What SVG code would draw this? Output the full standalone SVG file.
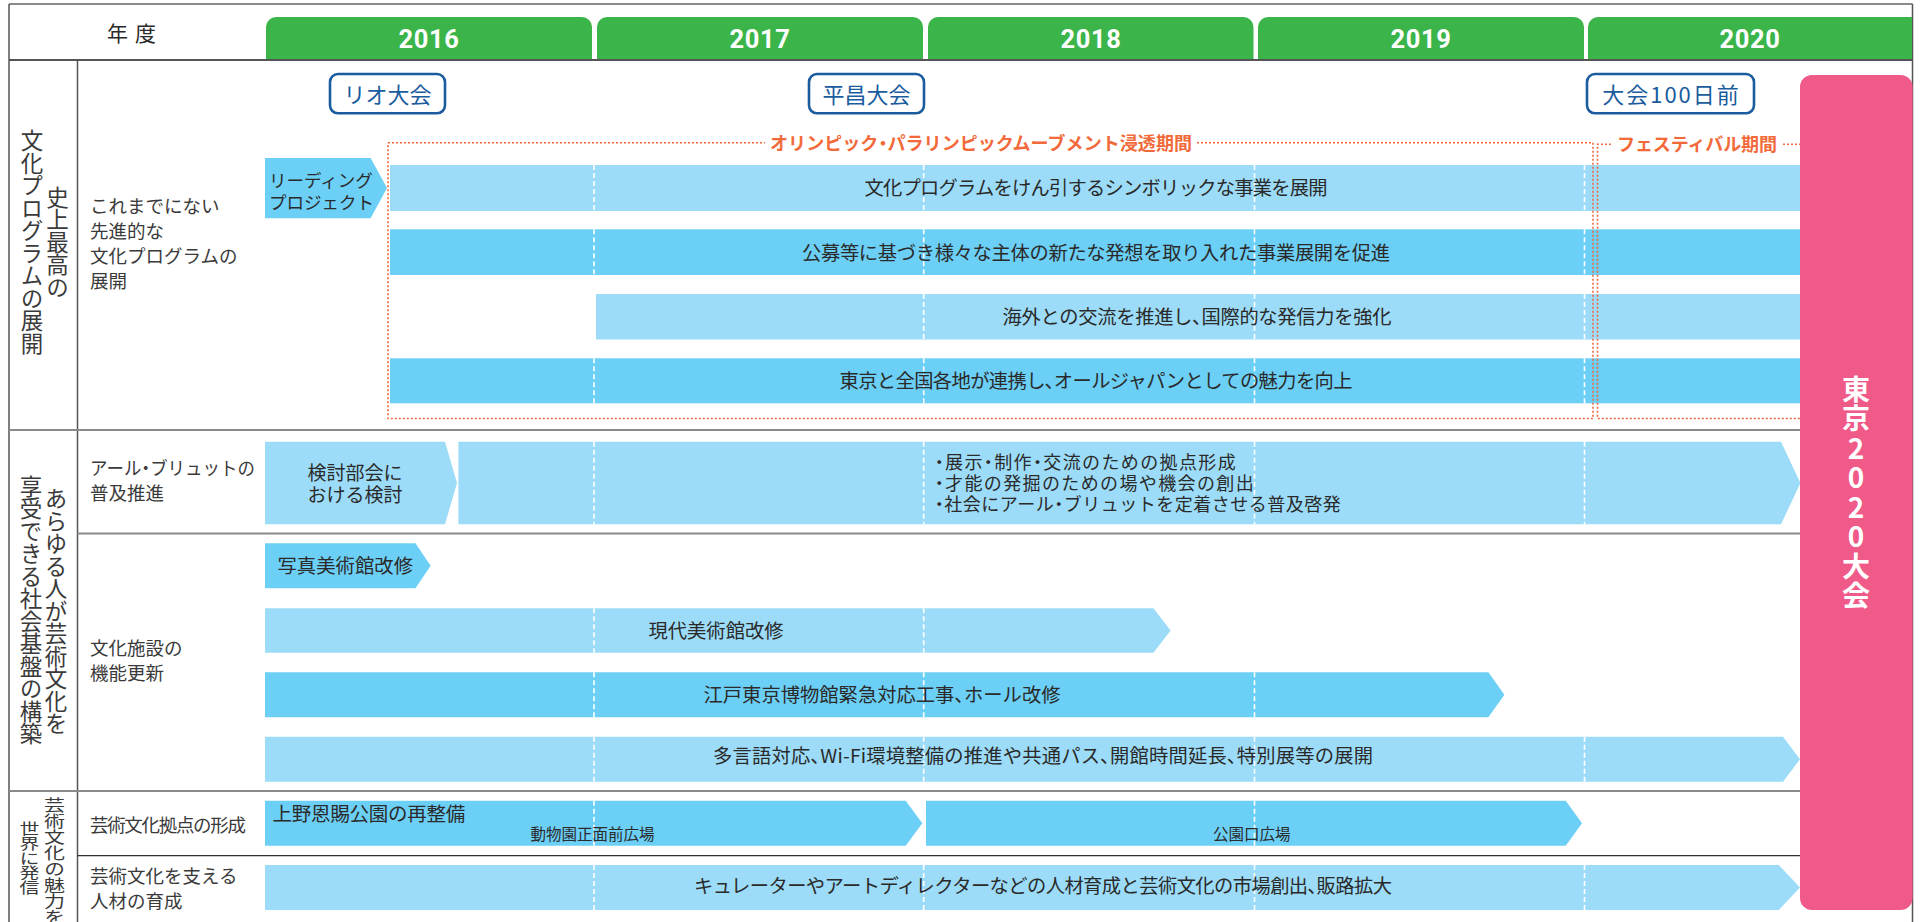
<svg xmlns="http://www.w3.org/2000/svg" width="1921" height="922" viewBox="0 0 1921 922">
<style>
text{font-family:"Noto Sans CJK JP","Noto Sans",sans-serif;fill:#2a2a2a}
.p{font-feature-settings:"palt"}
.lt{fill:#9cdcf8}
.dk{fill:#6bcff6}
.dash{stroke:#fff;stroke-width:1.6;stroke-dasharray:5 3;fill:none}
.bt{font-size:19.3px;text-anchor:middle}
.lab{font-size:18.5px;fill:#3a3a3a}
.vt{font-size:22.5px;fill:#3a3a3a;writing-mode:vertical-rl;text-anchor:middle}
.yr{font-family:Roboto,"Liberation Sans",sans-serif;font-weight:700;font-size:25.5px;fill:#fff;text-anchor:middle;letter-spacing:0.6px}
.ms{fill:#fff;stroke:#1b5c9e;stroke-width:2.6}
.mt{font-size:22px;fill:#1b5c9e;text-anchor:middle}
.or{stroke:#f26a3a;stroke-width:1.6;stroke-dasharray:2 2;fill:none}
.ot{font-size:18px;font-weight:700;fill:#f26a3a;text-anchor:middle}
.sl{stroke:#8a8a8a;stroke-width:2;fill:none}
.hd{fill:#3bb54a}
</style>
<rect x="0" y="0" width="1921" height="922" fill="#fff"/>

<g id="frame">
<path d="M9 4H1912.5" stroke="#8a8a8a" stroke-width="2" fill="none"/>
<path d="M9 4V922M1912.5 4V922M77.5 60V922" stroke="#555" stroke-width="1.5" fill="none"/>
</g>

<g id="header">
<text x="107" y="41" font-size="21" letter-spacing="7" fill="#333">年度</text>
<path class="hd" d="M266 60V27A10 10 0 0 1 276 17H582A10 10 0 0 1 592 27V60Z"/>
<path class="hd" d="M597 60V27A10 10 0 0 1 607 17H913A10 10 0 0 1 923 27V60Z"/>
<path class="hd" d="M928 60V27A10 10 0 0 1 938 17H1243.5A10 10 0 0 1 1253.5 27V60Z"/>
<path class="hd" d="M1258 60V27A10 10 0 0 1 1268 17H1574A10 10 0 0 1 1584 27V60Z"/>
<path class="hd" d="M1588 60V27A10 10 0 0 1 1598 17H1912V60Z"/>
<text class="yr" x="429" y="48">2016</text>
<text class="yr" x="760" y="48">2017</text>
<text class="yr" x="1091" y="48">2018</text>
<text class="yr" x="1421" y="48">2019</text>
<text class="yr" x="1750" y="48">2020</text>
<path d="M9 60H1912.5" stroke="#555" stroke-width="2" fill="none"/>
</g>

<g id="milestones">
<g id="ms-rio"><rect class="ms" x="330" y="74" width="115" height="39.3" rx="8"/><text class="mt" x="387.5" y="103">リオ大会</text></g>
<g id="ms-pyeongchang"><rect class="ms" x="809" y="74" width="115" height="39.3" rx="8"/><text class="mt" x="866.5" y="103">平昌大会</text></g>
<g id="ms-100days"><rect class="ms" x="1587" y="74" width="167" height="39.3" rx="8"/><text class="mt" x="1671.5" y="103" letter-spacing="2">大会100日前</text></g>
</g>

<g id="row-labels">
<text class="vt" x="32" y="242">文化プログラムの展開</text>
<text class="vt" x="57.5" y="242">史上最高の</text>
<text class="vt" x="31" y="610">享受できる社会基盤の構築</text>
<text class="vt" x="56" y="611">あらゆる人が芸術文化を</text>
<text class="vt" transform="translate(29.5 858) scale(1 0.74)" x="0" y="0" style="font-size:20px">世界に発信</text>
<text class="vt" transform="translate(54.5 861) scale(1 0.76)" x="0" y="0" style="font-size:21px">芸術文化の魅力を</text>
<text class="lab" x="90" y="213">これまでにない</text>
<text class="lab" x="90" y="238">先進的な</text>
<text class="lab" x="90" y="263">文化プログラムの</text>
<text class="lab" x="90" y="288">展開</text>
<text class="lab" x="90" y="475" textLength="165" lengthAdjust="spacingAndGlyphs">アール<tspan class="p">・</tspan>ブリュットの</text>
<text class="lab" x="90" y="500">普及推進</text>
<text class="lab" x="90" y="655">文化施設の</text>
<text class="lab" x="90" y="680">機能更新</text>
<text class="lab" x="90" y="832" textLength="156">芸術文化拠点の形成</text>
<text class="lab" x="90" y="883">芸術文化を支える</text>
<text class="lab" x="90" y="908">人材の育成</text>
</g>

<g id="bar-lead">
<path class="dk" d="M265 158H370.6L387 188L370.6 218.3H265Z"/>
<text x="269" y="186.5" font-size="17.5">リーディング</text>
<text x="269" y="208.5" font-size="17.5">プロジェクト</text>
</g>
<g id="bar-1">
<rect class="lt" x="390" y="165" width="1410" height="46"/>
<path class="dash" d="M594 165V211M923.7 165V211M1254.5 165V211M1584.5 165V211"/>
<text class="bt" x="1096" y="195" textLength="463">文化プログラムをけん引するシンボリックな事業を展開</text>
</g>
<g id="bar-2">
<rect class="dk" x="390" y="229.3" width="1410" height="45.7"/>
<path class="dash" d="M594 229.3V275M923.7 229.3V275M1254.5 229.3V275M1584.5 229.3V275"/>
<text class="bt" x="1096" y="259.5" textLength="588">公募等に基づき様々な主体の新たな発想を取り入れた事業展開を促進</text>
</g>
<g id="bar-3">
<rect class="lt" x="596" y="294" width="1204" height="45.5"/>
<path class="dash" d="M923.7 294V339.5M1254.5 294V339.5M1584.5 294V339.5"/>
<text class="bt" x="1197" y="324" textLength="389">海外との交流を推進し<tspan class="p">、</tspan>国際的な発信力を強化</text>
</g>
<g id="bar-4">
<rect class="dk" x="390" y="358.3" width="1410" height="45"/>
<path class="dash" d="M594 358.3V403.3M923.7 358.3V403.3M1254.5 358.3V403.3M1584.5 358.3V403.3"/>
<text class="bt" x="1096" y="387.5" textLength="513">東京と全国各地が連携し<tspan class="p">、</tspan>オールジャパンとしての魅力を向上</text>
</g>

<g id="periods">
<path class="or" d="M388 142.7H765M1197 142.7H1593V418.5H388V142.7"/>
<path class="or" d="M1611 144.3H1597.5V418.5H1800M1783 144.3H1800"/>
<text class="ot" x="981" y="150" textLength="422">オリンピック<tspan class="p">・</tspan>パラリンピックムーブメント浸透期間</text>
<text class="ot" x="1697" y="151" textLength="160">フェスティバル期間</text>
</g>

<g id="bar-aru-1">
<path class="lt" d="M265 441.7H445L457 483L445 524.3H265Z"/>
<text x="355" y="480" font-size="19" text-anchor="middle">検討部会に</text>
<text x="355" y="501.5" font-size="19" text-anchor="middle">おける検討</text>
</g>
<g id="bar-aru-2">
<path class="lt" d="M458.4 441.7H1781L1800.4 483L1781 524.3H458.4Z"/>
<path class="dash" d="M594 441.7V524.3M923.7 441.7V524.3M1254.5 441.7V524.3M1584.5 441.7V524.3"/>
<text x="934.7" y="469.3" font-size="18" textLength="301"><tspan class="p">・</tspan>展示<tspan class="p">・</tspan>制作<tspan class="p">・</tspan>交流のための拠点形成</text>
<text x="934.7" y="490" font-size="18" textLength="319"><tspan class="p">・</tspan>才能の発掘のための場や機会の創出</text>
<text x="934.7" y="510.5" font-size="18" textLength="406"><tspan class="p">・</tspan>社会にアール<tspan class="p">・</tspan>ブリュットを定着させる普及啓発</text>
</g>
<g id="bar-shashin">
<path class="dk" d="M265 543.3H415.5L430.6 565.8L415.5 588.3H265Z"/>
<text x="277.5" y="573" font-size="19.3" textLength="135.5">写真美術館改修</text>
</g>
<g id="bar-gendai">
<path class="lt" d="M265 608.3H1153.5L1170.6 630.5L1153.5 652.7H265Z"/>
<path class="dash" d="M594 608.3V652.7M923.7 608.3V652.7"/>
<text class="bt" x="716" y="638.3">現代美術館改修</text>
</g>
<g id="bar-edo">
<path class="dk" d="M265 672.3H1488.4L1504.4 694.8L1488.4 717.3H265Z"/>
<path class="dash" d="M594 672.3V717.3M923.7 672.3V717.3M1254.5 672.3V717.3"/>
<text class="bt" x="882" y="701.7" textLength="357">江戸東京博物館緊急対応工事<tspan class="p">、</tspan>ホール改修</text>
</g>
<g id="bar-tagengo">
<path class="lt" d="M265 736.7H1783L1800 759.2L1783 781.7H265Z"/>
<path class="dash" d="M594 736.7V781.7M923.7 736.7V781.7M1254.5 736.7V781.7M1584.5 736.7V781.7"/>
<text class="bt" x="1043" y="763.3" textLength="660">多言語対応<tspan class="p">、</tspan>Wi-Fi環境整備の推進や共通パス<tspan class="p">、</tspan>開館時間延長<tspan class="p">、</tspan>特別展等の展開</text>
</g>
<g id="bar-ueno-1">
<path class="dk" d="M265 800.7H905.7L922.3 823.2L905.7 845.7H265Z"/>
<path class="dash" d="M594 800.7V845.7"/>
<text x="272.6" y="821" font-size="19.5" textLength="192.6">上野恩賜公園の再整備</text>
<text x="530.6" y="840" font-size="15.5" textLength="124">動物園正面前広場</text>
</g>
<g id="bar-ueno-2">
<path class="dk" d="M926 800.7H1565.7L1582 823.2L1565.7 845.7H926Z"/>
<path class="dash" d="M1254.5 800.7V845.7"/>
<text x="1213" y="840" font-size="15.5">公園口広場</text>
</g>
<g id="bar-jinzai">
<path class="lt" d="M265 865H1778.8L1800 887.5L1778.8 910H265Z"/>
<path class="dash" d="M594 865V910M923.7 865V910M1254.5 865V910M1584.5 865V910"/>
<text class="bt" x="1043" y="893.3" textLength="698">キュレーターやアートディレクターなどの人材育成と芸術文化の市場創出<tspan class="p">、</tspan>販路拡大</text>
</g>

<g id="section-lines">
<path class="sl" d="M9 430H1800M77.5 533.5H1800M9 791H1800"/>
<path d="M77.5 855.7H1800" stroke="#333" stroke-width="1.3" fill="none"/>
</g>

<g id="tokyo2020">
<rect x="1800" y="75" width="112.6" height="835" rx="12" fill="#ef5a88"/>
<text x="1856" y="493" font-size="28" font-weight="700" style="fill:#fff;writing-mode:vertical-rl;text-orientation:upright;text-anchor:middle;letter-spacing:1.5px">東京2020大会</text>
</g>
</svg>
